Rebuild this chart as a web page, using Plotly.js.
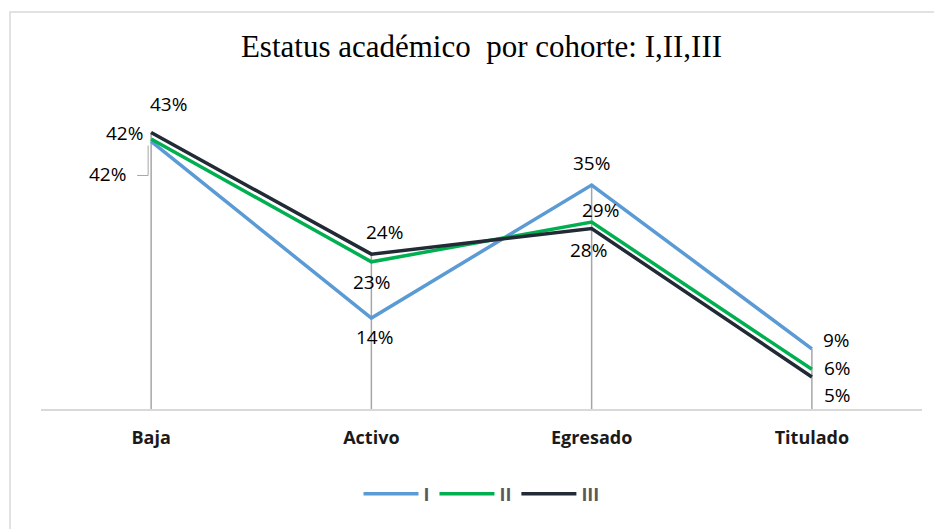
<!DOCTYPE html>
<html>
<head>
<meta charset="utf-8">
<script src="https://cdn.plot.ly/plotly-3.0.1.min.js"></script>
<style>html,body{margin:0;padding:0;background:#fff}#chart{width:934px;height:529px}</style>
</head>
<body>
<div id="chart"></div>
<script>
// ---- data ----
const categories = ["Baja", "Activo", "Egresado", "Titulado"];
const seriesNames = ["I", "II", "III"];
const serieI   = [0.418, 0.142, 0.350, 0.094];
const serieII  = [0.422, 0.230, 0.292, 0.062];
const serieIII = [0.432, 0.242, 0.282, 0.050];
const titleText = "Estatus académico\u00A0 por cohorte: I,II,III";

// ---- styles / positions ----
const colors = ["#5B9BD5", "#00B050", "#222A35"];
const allSeries = [serieI, serieII, serieIII];
// label pixel offsets [xshift, yshift] per series per category
const labelOffsets = [
  [[-44, -33], [3, -19], [0, 22], [25, 9]],
  [[-27, 6], [0, -20], [9, 12], [26, 1]],
  [[17, 29], [13, 22], [-3, -21], [26, -18]]
];
const labelFont = "'Open Sans', 'Noto Sans', sans-serif";

const traces = [];
// drop lines (from highest point to axis)
const dx = [], dy = [];
categories.forEach((c, i) => {
  const m = Math.max(...allSeries.map(s => s[i]));
  dx.push(c, c, null); dy.push(m, 0, null);
});
traces.push({x: dx, y: dy, mode: "lines", line: {color: "#A6A6A6", width: 1.5},
  showlegend: false, hoverinfo: "skip"});

allSeries.forEach((s, k) => {
  traces.push({x: categories, y: s, name: seriesNames[k], mode: "lines",
    line: {color: colors[k], width: 3.5}, hoverinfo: "skip"});
});

const annotations = [];
allSeries.forEach((s, k) => {
  s.forEach((v, i) => {
    annotations.push({x: categories[i], y: v, xref: "x", yref: "y",
      text: Math.round(v * 100) + "%", showarrow: false,
      xshift: labelOffsets[k][i][0], yshift: labelOffsets[k][i][1],
      font: {family: labelFont, size: 19, color: "#000"}});
  });
});

const layout = {
  width: 934, height: 529,
  margin: {l: 41, r: 12, t: 121, b: 120},
  paper_bgcolor: "#fff", plot_bgcolor: "#fff",
  title: {text: titleText, x: 0.5, xanchor: "center", xref: "paper",
    y: 1 - 46 / 529, yanchor: "middle",
    font: {family: "'Liberation Serif', 'Times New Roman', serif", size: 31, color: "#000"}},
  xaxis: {type: "category", range: [-0.5, 3.5], showgrid: false, zeroline: false,
    showline: true, linecolor: "#D9D9D9", linewidth: 1.5, ticks: "",
    ticklabelstandoff: 12,
    tickfont: {family: labelFont, size: 18, color: "#1a1a1a", weight: "bold"}},
  yaxis: {range: [0, 0.45], showgrid: false, zeroline: false, showline: false,
    showticklabels: false, ticks: ""},
  legend: {orientation: "h", x: 0.5, xanchor: "center", y: (409 - 494) / 288, yanchor: "middle",
    itemwidth: 55, font: {family: labelFont, size: 18, color: "#595959", weight: "bold"}},
  annotations: annotations,
  shapes: [
    {type: "path", xref: "x", yref: "y", xsizemode: "pixel", ysizemode: "pixel",
      xanchor: categories[0], yanchor: serieI[0], path: "M-14,-34 H-3 V-4",
      line: {color: "#A6A6A6", width: 1}},
    {type: "rect", xref: "paper", yref: "paper", x0: (10 - 41) / 881, x1: 1.2,
      y0: -1, y1: (409 - 12) / 288, line: {color: "#D9D9D9", width: 1.5}, layer: "below"}
  ]
};

Plotly.newPlot("chart", traces, layout, {displayModeBar: false, staticPlot: true});
</script>
</body>
</html>
